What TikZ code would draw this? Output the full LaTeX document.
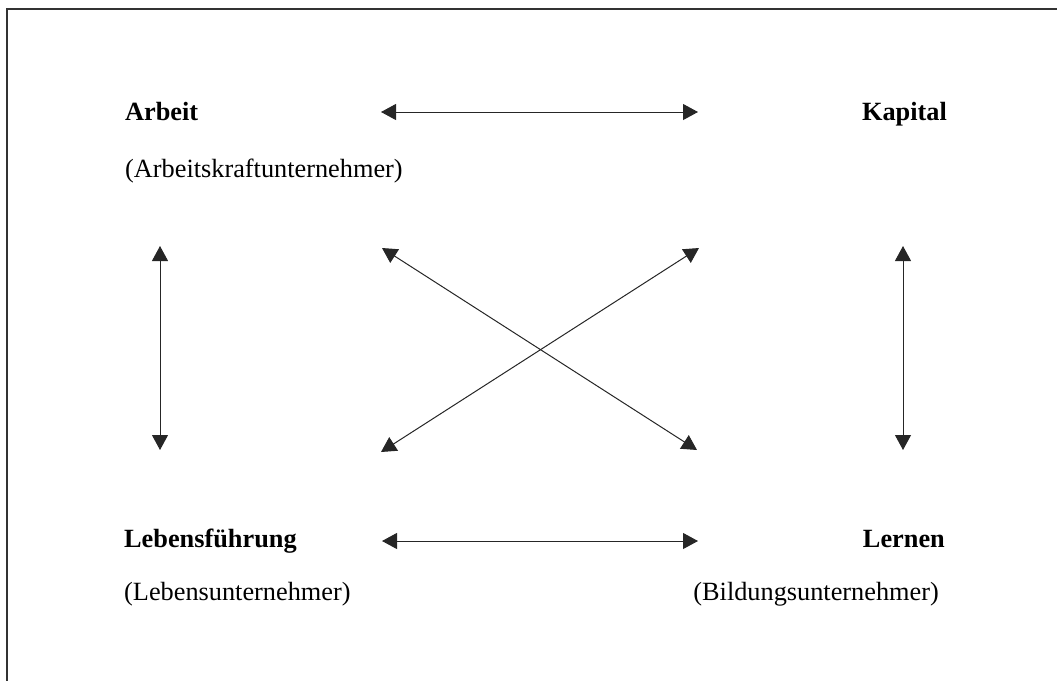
\documentclass[tikz,border=0pt]{standalone}
\usepackage{fontspec}
\setmainfont{Liberation Serif}
\usetikzlibrary{arrows.meta}
\begin{document}
\begin{tikzpicture}[x=1pt,y=-1pt,
  lbl/.style={inner sep=0pt,font=\fontsize{26.3}{30}\selectfont},
  head/.style={lbl,font=\fontsize{26.3}{30}\selectfont\bfseries},
  conn/.style={draw=black!85,line width=1pt,{Triangle[length=15pt,width=16pt]}-{Triangle[length=15pt,width=16pt]}},
  frame/.style={draw=black!80,line width=1.3pt}]
\useasboundingbox (0,0) rectangle (1057,681);
% frame (top and left edges only)
\coordinate (ftr) at (1057,9);
\coordinate (ftl) at (7,9);
\coordinate (fbl) at (7,681);
\draw[frame] (ftr) -- (ftl) -- (fbl);
% labels
\node[head,anchor=base west] (arbeit) at (125,120) {Arbeit};
\node[lbl,anchor=base west] (arbeitsub) at (125,177) {(Arbeitskraftunternehmer)};
\node[head,anchor=base east] (kapital) at (947,120) {Kapital};
\node[head,anchor=base west] (leben) at (124,547) {Lebensführung};
\node[lbl,anchor=base west] (lebensub) at (124,600) {(Lebensunternehmer)};
\node[head,anchor=base east] (lernen) at (945,547) {Lernen};
\node[lbl,anchor=base east] (lernensub) at (939,600) {(Bildungsunternehmer)};
% arrow end points
\coordinate (ht1) at (381,112);
\coordinate (ht2) at (698,112);
\coordinate (hb1) at (382,541);
\coordinate (hb2) at (698,541);
\coordinate (vl1) at (160,246);
\coordinate (vl2) at (160,450);
\coordinate (vr1) at (903,246);
\coordinate (vr2) at (903,450);
\coordinate (d1a) at (382,248);
\coordinate (d1b) at (697,450);
\coordinate (d2a) at (381,452);
\coordinate (d2b) at (699,248);
% connectors
\draw[conn] (ht1) -- (ht2);
\draw[conn] (hb1) -- (hb2);
\draw[conn] (vl1) -- (vl2);
\draw[conn] (vr1) -- (vr2);
\draw[conn] (d1a) -- (d1b);
\draw[conn] (d2a) -- (d2b);
\end{tikzpicture}
\end{document}
